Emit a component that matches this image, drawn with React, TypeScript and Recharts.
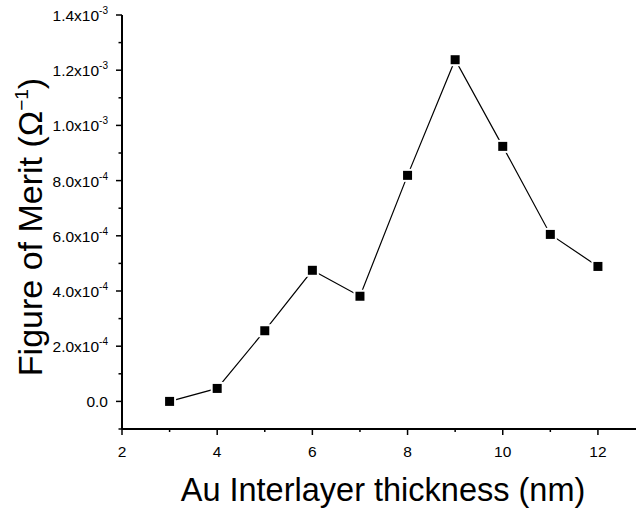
import { LineChart, Line, XAxis, YAxis } from 'recharts'

// Au interlayer thickness (nm) vs figure of merit (1/ohm)
const thickness = [3, 4, 5, 6, 7, 8, 9, 10, 11, 12]
const merit = [0, 4.7e-5, 2.56e-4, 4.75e-4, 3.81e-4, 8.19e-4, 1.238e-3, 9.24e-4, 6.05e-4, 4.89e-4]

const xTicks = [2, 3, 4, 5, 6, 7, 8, 9, 10, 11, 12]
const xLabels = ['2', '', '4', '', '6', '', '8', '', '10', '', '12']

const yTicks = [
  -0.0001, 0, 0.0001, 0.0002, 0.0003, 0.0004, 0.0005, 0.0006,
  0.0007, 0.0008, 0.0009, 0.001, 0.0011, 0.0012, 0.0013, 0.0014,
]
const yMantissa = ['', '0.0', '', '2.0x10', '', '4.0x10', '', '6.0x10', '', '8.0x10', '', '1.0x10', '', '1.2x10', '', '1.4x10']
const yExponent = ['', '', '', '-4', '', '-4', '', '-4', '', '-4', '', '-3', '', '-3', '', '-3']

const data = thickness.map((t, i) => ({ t, v: merit[i] }))

const FONT = '"Liberation Sans", Arial, sans-serif'

const XTick = (props: any) => {
  const { x, y, index } = props
  const label = xLabels[index]
  const major = label !== ''
  return (
    <g>
      <line x1={x} x2={x} y1={y} y2={y + (major ? 6 : 3)} stroke="#000" strokeWidth={1.5} />
      {major && (
        <text x={x} y={y + 28} textAnchor="middle" fontFamily={FONT} fontSize={15.5} fill="#000">
          {label}
        </text>
      )}
    </g>
  )
}

const YTick = (props: any) => {
  const { x, y, index } = props
  const label = yMantissa[index]
  const exp = yExponent[index]
  const major = label !== ''
  return (
    <g>
      <line x1={x - (major ? 6 : 3.5)} x2={x} y1={y} y2={y} stroke="#000" strokeWidth={1.5} />
      {major && (
        <text x={x - 14} y={y + 6} textAnchor="end" fontFamily={FONT} fontSize={15.5} fill="#000">
          <tspan>{label}</tspan>
          {exp && (
            <tspan dy={-7} fontSize={10}>
              {exp}
            </tspan>
          )}
        </text>
      )}
    </g>
  )
}

const XTitle = () => (
  <text x={383} y={501} textAnchor="middle" fontFamily={FONT} fontSize={32.5} fill="#000">
    Au Interlayer thickness (nm)
  </text>
)

const YTitle = () => (
  <text
    x={42}
    y={227}
    transform="rotate(-90 42 227)"
    textAnchor="middle"
    fontFamily={FONT}
    fontSize={34}
    fill="#000"
  >
    <tspan>Figure of Merit (Ω</tspan>
    <tspan dy={-14} fontSize={19}>−1</tspan>
    <tspan dy={14}>)</tspan>
  </text>
)

const SquareDot = (props: any) => {
  const { cx, cy } = props
  if (cx == null || cy == null) return null
  return <rect x={cx - 5.5} y={cy - 5.5} width={11} height={11} fill="#000" stroke="#fff" strokeWidth={2} />
}

export default function App() {
  return (
    <div style={{ position: 'absolute', left: 0, top: 0, background: '#fff' }}>
      <LineChart width={637} height={510} data={data} margin={{ top: 15, right: 1, left: 0, bottom: 0 }}>
        <XAxis
          dataKey="t"
          type="number"
          domain={[2, 12.8]}
          ticks={xTicks}
          interval={0}
          allowDataOverflow
          height={81}
          tickSize={0}
          tickMargin={0}
          tickLine={false}
          axisLine={{ stroke: '#000', strokeWidth: 2 }}
          tick={<XTick />}
          label={{ content: () => <XTitle /> }}
        />
        <YAxis
          dataKey="v"
          type="number"
          domain={[-0.0001, 0.0014]}
          ticks={yTicks}
          interval={0}
          allowDataOverflow
          width={122}
          tickSize={0}
          tickMargin={0}
          tickLine={false}
          axisLine={{ stroke: '#000', strokeWidth: 2 }}
          tick={<YTick />}
          label={{ content: () => <YTitle /> }}
        />
        <Line
          dataKey="v"
          stroke="#000"
          strokeWidth={1.2}
          dot={<SquareDot />}
          activeDot={false}
          isAnimationActive={false}
        />
      </LineChart>
    </div>
  )
}
